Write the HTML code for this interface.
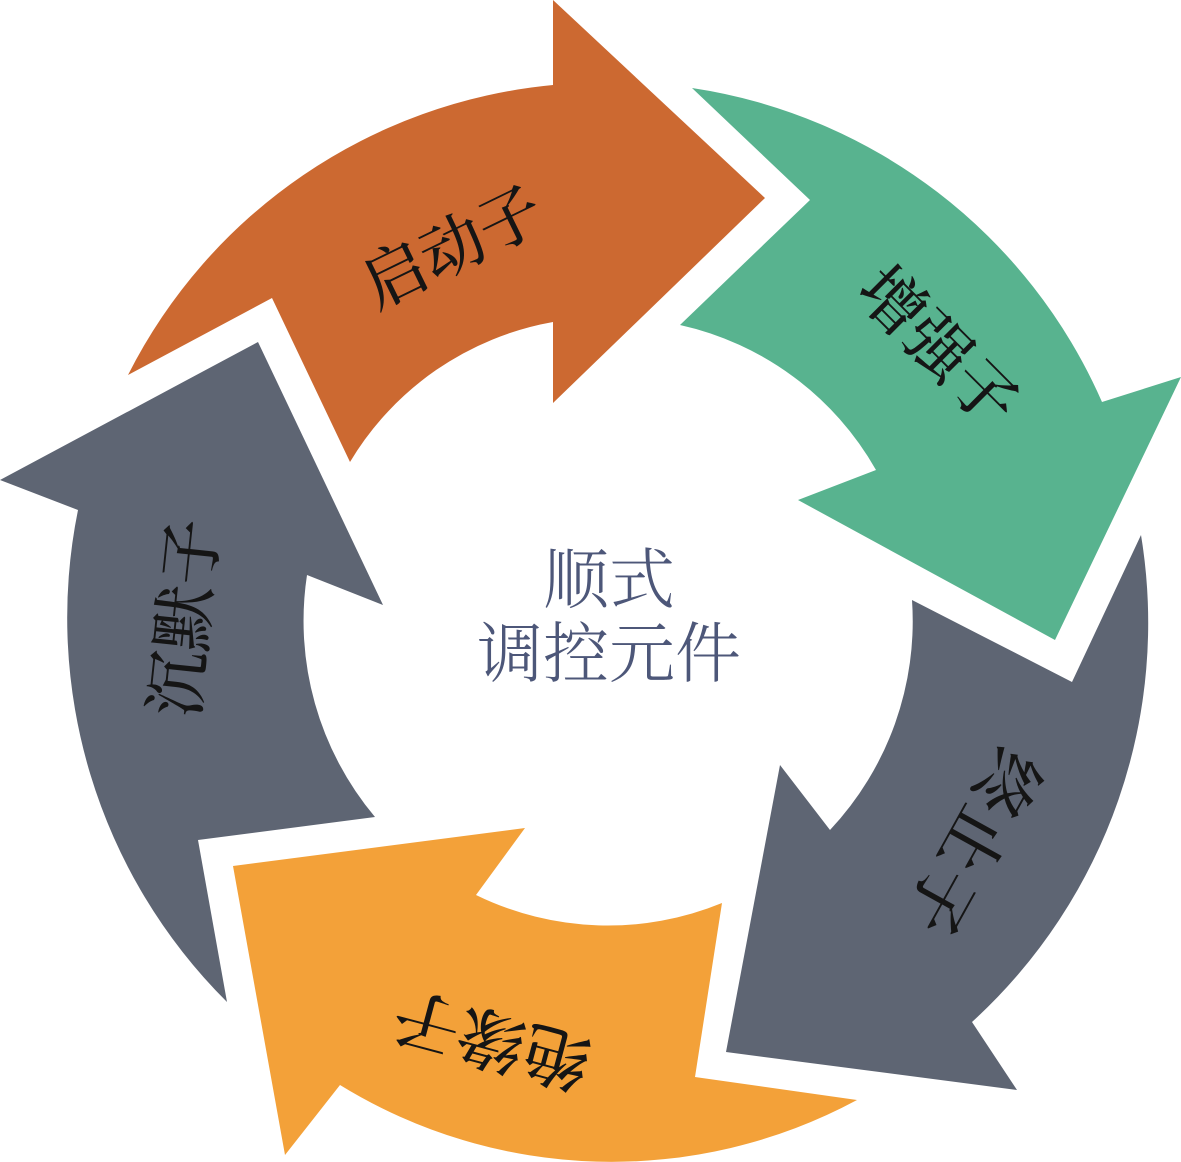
<!DOCTYPE html>
<html><head><meta charset="utf-8"><style>
html,body{margin:0;padding:0;background:#fff}
svg{display:block}
text{font-family:"Liberation Serif","Noto Serif CJK SC",serif;text-anchor:middle;dominant-baseline:central}
.l{fill:#151515;font-weight:500}
.c{font-size:66px;fill:#4d5779;font-weight:300}
</style></head><body>
<svg width="1181" height="1162" viewBox="0 0 1181 1162" xmlns="http://www.w3.org/2000/svg">
<path fill="#CC6931" d="M765 198L553 0V85A532 532 0 0 0 128 375L272 298L350 462A297 297 0 0 1 553 322V403Z"/>
<path fill="#58B38F" d="M692 88A534 534 0 0 1 1102 402L1181 377L1055 640L798 500L876 470A300 300 0 0 0 680 325L810 200Z"/>
<path fill="#5E6573" d="M1141 535A540 540 0 0 1 972 1022L1017 1090L726 1052L780 765L830 830A305 305 0 0 0 912 600L1072 682Z"/>
<path fill="#F3A139" d="M857 1100A518 518 0 0 1 340 1085L285 1155L233 866L525 828L476 895A300 300 0 0 0 722 903L695 1077Z"/>
<path fill="#5E6573" d="M227 1002A542 542 0 0 1 78 510L0 480L258 342L383 605L307 575A305 305 0 0 0 375 817L198 840Z"/>
<text class="l" font-size="64" transform="translate(453,248) rotate(-26)">启动子</text>
<text class="l" font-size="65" transform="translate(937,348) rotate(45)">增强子</text>
<text class="l" font-size="67" transform="translate(972,841) rotate(119)">终止子</text>
<text class="l" font-size="67" transform="translate(492,1038) rotate(195)">绝缘子</text>
<text class="l" font-size="66" transform="translate(186,618) rotate(-84)">沉默子</text>
<text class="c" x="609" y="581">顺式</text>
<text class="c" x="609" y="655">调控元件</text>
</svg>
</body></html>
